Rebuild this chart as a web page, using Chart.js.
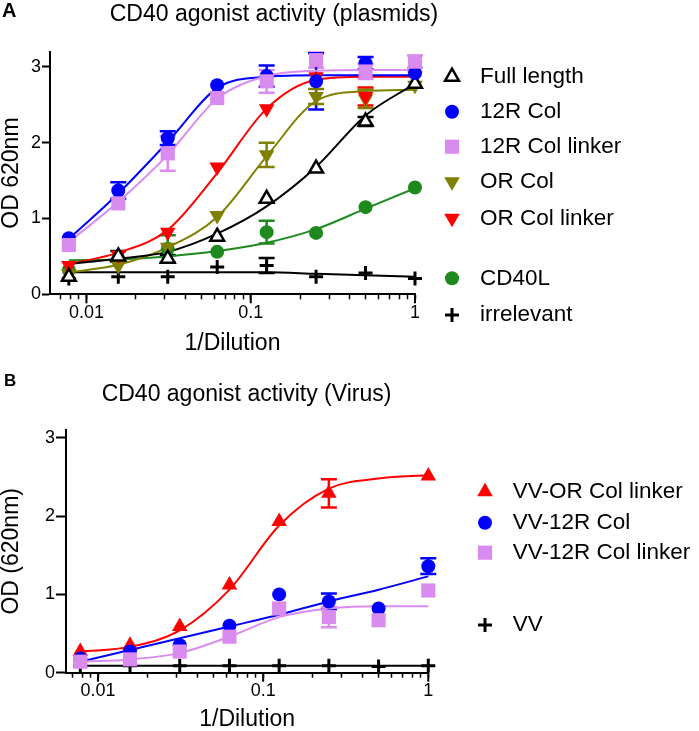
<!DOCTYPE html>
<html>
<head>
<meta charset="utf-8">
<title>CD40 agonist activity</title>
<script src="https://cdn.jsdelivr.net/npm/chart.js@4.4.1/dist/chart.umd.min.js"></script>
<style>
  html, body { margin: 0; padding: 0; background: #fff; }
  #wrap { position: relative; width: 699px; height: 731px; }
  canvas { position: absolute; left: 0; }
  #chartA { top: 0; }
  #chartB { top: 365px; }
</style>
</head>
<body>
<div id="wrap">
  <canvas id="chartA" width="699" height="365"></canvas>
  <canvas id="chartB" width="699" height="366"></canvas>
</div>
<script>
// x values: two-fold dilution series, same for both panels
const dilutions = [1 / 128, 1 / 64, 1 / 32, 1 / 16, 1 / 8, 1 / 4, 1 / 2, 1];
const xMajorValues = [0.01, 0.1, 1];
const xMajorLabels = ['0.01', '0.1', '1'];
const yTicks = [0, 1, 2, 3];

// Panel A - plasmids
const seriesA = ['Full length', '12R Col', '12R Col linker', 'OR Col', 'OR Col linker', 'CD40L', 'irrelevant'];

const fullLengthOD = [0.23, 0.50, 0.47, 0.76, 1.26, 1.66, 2.28, 2.78];
const fullLengthErr = [null, 0.07, 0.05, null, null, null, 0.06, null];
const fullLengthFit = [0.40, 0.47, 0.56, 0.80, 1.16, 1.68, 2.36, 2.78];

const col12ROD = [0.74, 1.37, 2.06, 2.76, 2.88, 2.81, 3.05, 2.92];
const col12RErr = [null, 0.11, 0.09, null, 0.14, 0.37, 0.08, null];
const col12RFit = [0.73, 1.33, 2.01, 2.72, 2.87, 2.89, 2.89, 2.89];

const col12RLinkerOD = [0.65, 1.20, 1.86, 2.59, 2.81, 3.09, 2.94, 3.07];
const col12RLinkerErr = [null, null, 0.23, null, 0.15, 0.10, 0.10, 0.08];
const col12RLinkerFit = [0.69, 1.22, 1.84, 2.58, 2.88, 2.95, 2.96, 2.96];

const orColOD = [0.27, 0.38, 0.62, 1.04, 1.84, 2.61, 2.58, 2.76];
const orColErr = [null, null, null, null, 0.16, 0.10, 0.12, null];
const orColFit = [0.29, 0.39, 0.62, 1.02, 1.82, 2.55, 2.68, 2.70];

const orColLinkerOD = [0.38, 0.52, 0.82, 1.68, 2.45, 2.87, 2.61, 2.88];
const orColLinkerErr = [null, null, null, null, null, null, 0.12, null];
const orColLinkerFit = [0.40, 0.55, 0.85, 1.60, 2.45, 2.83, 2.87, 2.87];

const cd40lOD = [0.32, 0.47, 0.60, 0.56, 0.82, 0.81, 1.15, 1.41];
const cd40lErr = [null, null, 0.18, null, 0.15, null, null, null];
const cd40lFit = [0.45, 0.46, 0.50, 0.57, 0.68, 0.86, 1.13, 1.40];

const irrelevantOD = [0.21, 0.23, 0.23, 0.36, 0.38, 0.23, 0.28, 0.21];
const irrelevantErr = [null, null, null, null, 0.10, null, null, null];
const irrelevantFit = [0.29, 0.29, 0.29, 0.29, 0.29, 0.27, 0.25, 0.23];

// Panel B - virus
const seriesB = ['VV-OR Col linker', 'VV-12R Col', 'VV-12R Col linker', 'VV'];

const vvOrLinkerOD = [0.27, 0.35, 0.59, 1.12, 1.93, 2.29, null, 2.51];
const vvOrLinkerErr = [null, null, null, null, null, 0.18, null, null];
const vvOrLinkerFit = [0.27, 0.33, 0.54, 1.06, 1.88, 2.35, 2.48, 2.52];

const vv12RColOD = [0.18, 0.27, 0.35, 0.60, 1.00, 0.91, 0.82, 1.36];
const vv12RColErr = [null, null, null, null, null, 0.10, null, 0.10];
const vv12RColFit = [0.14, 0.29, 0.44, 0.59, 0.74, 0.91, 1.06, 1.23];

const vv12RLinkerOD = [0.14, 0.17, 0.27, 0.46, 0.82, 0.71, 0.67, 1.05];
const vv12RLinkerErr = [null, null, null, null, null, 0.13, null, null];
const vv12RLinkerFit = [0.14, 0.17, 0.25, 0.46, 0.71, 0.82, 0.85, 0.85];

const vvOD = [0.09, 0.09, 0.09, 0.09, 0.09, 0.09, 0.08, 0.09];
const vvFit = [0.09, 0.09, 0.09, 0.09, 0.09, 0.09, 0.09, 0.09];

const FONT = "'Liberation Sans', Arial, sans-serif";
Chart.defaults.font.family = FONT;
Chart.defaults.color = '#000';

const BLUE = '#0000ff', PINK = '#da8bf0', OLIVE = '#808000', RED = '#ff0000', GREEN = '#1e8a1e', BLACK = '#000000';

// marker looks
const openTriangle = { shape: 'triangle', radius: 8, rotation: 0, fill: '#ffffff', color: BLACK, borderWidth: 2.5 };
const circle = c => ({ shape: 'circle', radius: 7, rotation: 0, fill: c, color: c, borderWidth: 0 });
const square = c => ({ shape: 'rect', radius: 10, rotation: 0, fill: c, color: c, borderWidth: 0 });
const triUp = c => ({ shape: 'triangle', radius: 9, rotation: 0, fill: c, color: c, borderWidth: 0 });
const triDown = c => ({ shape: 'triangle', radius: 9, rotation: 180, fill: c, color: c, borderWidth: 0 });
const plus = { shape: 'cross', radius: 7, rotation: 0, fill: BLACK, color: BLACK, borderWidth: 3 };

function points(values, errors) {
  const out = [];
  values.forEach((v, i) => {
    if (v === null) return;
    out.push({ x: dilutions[i], y: v, err: errors ? errors[i] : null });
  });
  return out;
}

function markerSet(label, values, errors, st) {
  return {
    label: label,
    data: points(values, errors),
    showLine: false,
    pointStyle: st.shape,
    pointRadius: st.radius,
    pointRotation: st.rotation,
    pointBackgroundColor: st.fill,
    pointBorderColor: st.color,
    pointBorderWidth: st.borderWidth,
    barColor: st.color,
    clip: false
  };
}

function fitSet(values, color) {
  return {
    data: points(values),
    showLine: true,
    pointRadius: 0,
    borderColor: color,
    borderWidth: 2,
    cubicInterpolationMode: 'monotone',
    fill: false,
    clip: false
  };
}

// error bars drawn under the markers
const errorBarPlugin = {
  id: 'errorBars',
  beforeDatasetsDraw(chart) {
    const { ctx, scales: { x, y } } = chart;
    chart.data.datasets.forEach(ds => {
      if (!ds.barColor) return;
      ctx.save();
      ctx.strokeStyle = ds.barColor;
      ctx.lineWidth = 2.5;
      ds.data.forEach(p => {
        if (!p.err) return;
        const px = x.getPixelForValue(p.x);
        const top = y.getPixelForValue(p.y + p.err);
        const bot = y.getPixelForValue(p.y - p.err);
        ctx.beginPath();
        ctx.moveTo(px, top); ctx.lineTo(px, bot);
        ctx.moveTo(px - 8, top); ctx.lineTo(px + 8, top);
        ctx.moveTo(px - 8, bot); ctx.lineTo(px + 8, bot);
        ctx.stroke();
      });
      ctx.restore();
    });
  }
};

function isMajor(v) {
  return xMajorValues.some(m => Math.abs(m - v) < 1e-9);
}

// decades get a longer tick
const majorTickPlugin = {
  id: 'majorTicks',
  afterDraw(chart) {
    const { ctx, scales: { x } } = chart;
    ctx.save();
    ctx.strokeStyle = '#000';
    ctx.lineWidth = 2;
    x.ticks.forEach(t => {
      if (!isMajor(t.value)) return;
      const px = x.getPixelForValue(t.value);
      ctx.beginPath();
      ctx.moveTo(px, x.top);
      ctx.lineTo(px, x.top + 9);
      ctx.stroke();
    });
    ctx.restore();
  }
};

// panel letter, title and the side legend
function makeTextPlugin(t) {
  return {
    id: 'panelText',
    afterDraw(chart) {
      const ctx = chart.ctx;
      ctx.save();
      ctx.fillStyle = '#000';
      ctx.textBaseline = 'middle';
      ctx.textAlign = 'left';
      ctx.font = 'bold ' + t.letterSize + 'px ' + FONT;
      ctx.fillText(t.letter, t.letterX, t.letterY);
      ctx.textAlign = 'center';
      ctx.font = '23px ' + FONT;
      ctx.fillText(t.title, t.titleX, t.titleY);
      t.labels.forEach((label, i) => {
        const st = t.styles[i];
        ctx.fillStyle = st.fill;
        ctx.strokeStyle = st.color;
        ctx.lineWidth = st.borderWidth;
        Chart.helpers.drawPoint(ctx, {
          pointStyle: st.shape, radius: st.radius, rotation: st.rotation, borderWidth: st.borderWidth
        }, t.markerX, t.rowY[i]);
        ctx.fillStyle = '#000';
        ctx.textAlign = 'left';
        ctx.font = '22.5px ' + FONT;
        ctx.fillText(label, t.textX, t.rowY[i]);
      });
      ctx.restore();
    }
  };
}

function xTickValues(min) {
  const out = [];
  for (let e = -3; e <= 0; e++) {
    for (let m = 1; m <= 9; m++) {
      const v = +(m * Math.pow(10, e)).toPrecision(3);
      if (v > min * 1.001 && v <= 1.0001) out.push(v);
    }
  }
  return out;
}

function makeChart(id, cfg) {
  const xTicks = xTickValues(cfg.xMin);
  return new Chart(document.getElementById(id), {
    type: 'scatter',
    data: { datasets: cfg.datasets },
    options: {
      responsive: false,
      animation: false,
      events: [],
      layout: { padding: cfg.padding },
      plugins: { legend: { display: false }, tooltip: { enabled: false } },
      scales: {
        x: {
          type: 'logarithmic',
          min: cfg.xMin,
          max: 1,
          afterFit: s => { s.height = cfg.xHeight; },
          afterBuildTicks: s => { s.ticks = xTicks.map(v => ({ value: v })); },
          grid: { drawOnChartArea: false, tickLength: 5, tickWidth: 1.5, tickColor: '#000' },
          border: { color: '#000', width: 2 },
          ticks: {
            autoSkip: false, maxRotation: 0, padding: 3, color: '#000', font: { size: 18 },
            callback: v => {
              const i = xMajorValues.findIndex(m => Math.abs(m - v) < 1e-9);
              return i >= 0 ? xMajorLabels[i] : '';
            }
          },
          title: { display: true, text: '1/Dilution', color: '#000', font: { size: 23, lineHeight: 1 }, padding: 0 }
        },
        y: {
          min: 0,
          max: cfg.yMax,
          afterFit: s => { s.width = cfg.yWidth; },
          afterBuildTicks: s => { s.ticks = yTicks.map(v => ({ value: v })); },
          grid: { drawOnChartArea: false, tickLength: cfg.yTickLen, tickWidth: 2, tickColor: '#000' },
          border: { color: '#000', width: 2 },
          ticks: { padding: 1, color: '#000', font: { size: 18 } },
          title: { display: true, text: cfg.yTitle, color: '#000', font: { size: 23, lineHeight: 1 }, padding: 0 }
        }
      }
    },
    plugins: [errorBarPlugin, majorTickPlugin, makeTextPlugin(cfg.text)]
  });
}

const stylesA = [openTriangle, circle(BLUE), square(PINK), triDown(OLIVE), triDown(RED), circle(GREEN), plus];

makeChart('chartA', {
  xMin: 0.006, yMax: 3.2, yWidth: 50, xHeight: 60.5, yTickLen: 8,
  padding: { left: 0, top: 51.8, right: 284, bottom: 10.2 },
  yTitle: 'OD 620nm',
  datasets: [
    markerSet(seriesA[2], col12RLinkerOD, col12RLinkerErr, stylesA[2]),
    markerSet(seriesA[1], col12ROD, col12RErr, stylesA[1]),
    markerSet(seriesA[0], fullLengthOD, fullLengthErr, stylesA[0]),
    markerSet(seriesA[4], orColLinkerOD, orColLinkerErr, stylesA[4]),
    markerSet(seriesA[3], orColOD, orColErr, stylesA[3]),
    markerSet(seriesA[5], cd40lOD, cd40lErr, stylesA[5]),
    markerSet(seriesA[6], irrelevantOD, irrelevantErr, stylesA[6]),
    fitSet(col12RLinkerFit, PINK),
    fitSet(col12RFit, BLUE),
    fitSet(fullLengthFit, BLACK),
    fitSet(orColLinkerFit, RED),
    fitSet(orColFit, OLIVE),
    fitSet(cd40lFit, GREEN),
    fitSet(irrelevantFit, BLACK)
  ],
  text: {
    letter: 'A', letterSize: 20, letterX: 2, letterY: 11,
    title: 'CD40 agonist activity (plasmids)', titleX: 274, titleY: 15,
    labels: seriesA, styles: stylesA,
    markerX: 452, textX: 480,
    rowY: [76.7, 111.7, 146.7, 181.7, 218.3, 278.3, 315]
  }
});

const stylesB = [triUp(RED), circle(BLUE), square(PINK), plus];

makeChart('chartB', {
  xMin: 0.0064, yMax: 3.1, yWidth: 66, xHeight: 58.3, yTickLen: 10,
  padding: { left: 0, top: 64.9, right: 270.7, bottom: 0 },
  yTitle: 'OD (620nm)',
  datasets: [
    markerSet(seriesB[2], vv12RLinkerOD, vv12RLinkerErr, stylesB[2]),
    markerSet(seriesB[1], vv12RColOD, vv12RColErr, stylesB[1]),
    markerSet(seriesB[0], vvOrLinkerOD, vvOrLinkerErr, stylesB[0]),
    markerSet(seriesB[3], vvOD, null, stylesB[3]),
    fitSet(vv12RLinkerFit, PINK),
    fitSet(vv12RColFit, BLUE),
    fitSet(vvOrLinkerFit, RED),
    fitSet(vvFit, BLACK)
  ],
  text: {
    letter: 'B', letterSize: 17, letterX: 4, letterY: 16,
    title: 'CD40 agonist activity (Virus)', titleX: 246.5, titleY: 30,
    labels: seriesB, styles: stylesB,
    markerX: 485, textX: 512.7,
    rowY: [126.7, 157.7, 187.7, 260]
  }
});
</script>
</body>
</html>
